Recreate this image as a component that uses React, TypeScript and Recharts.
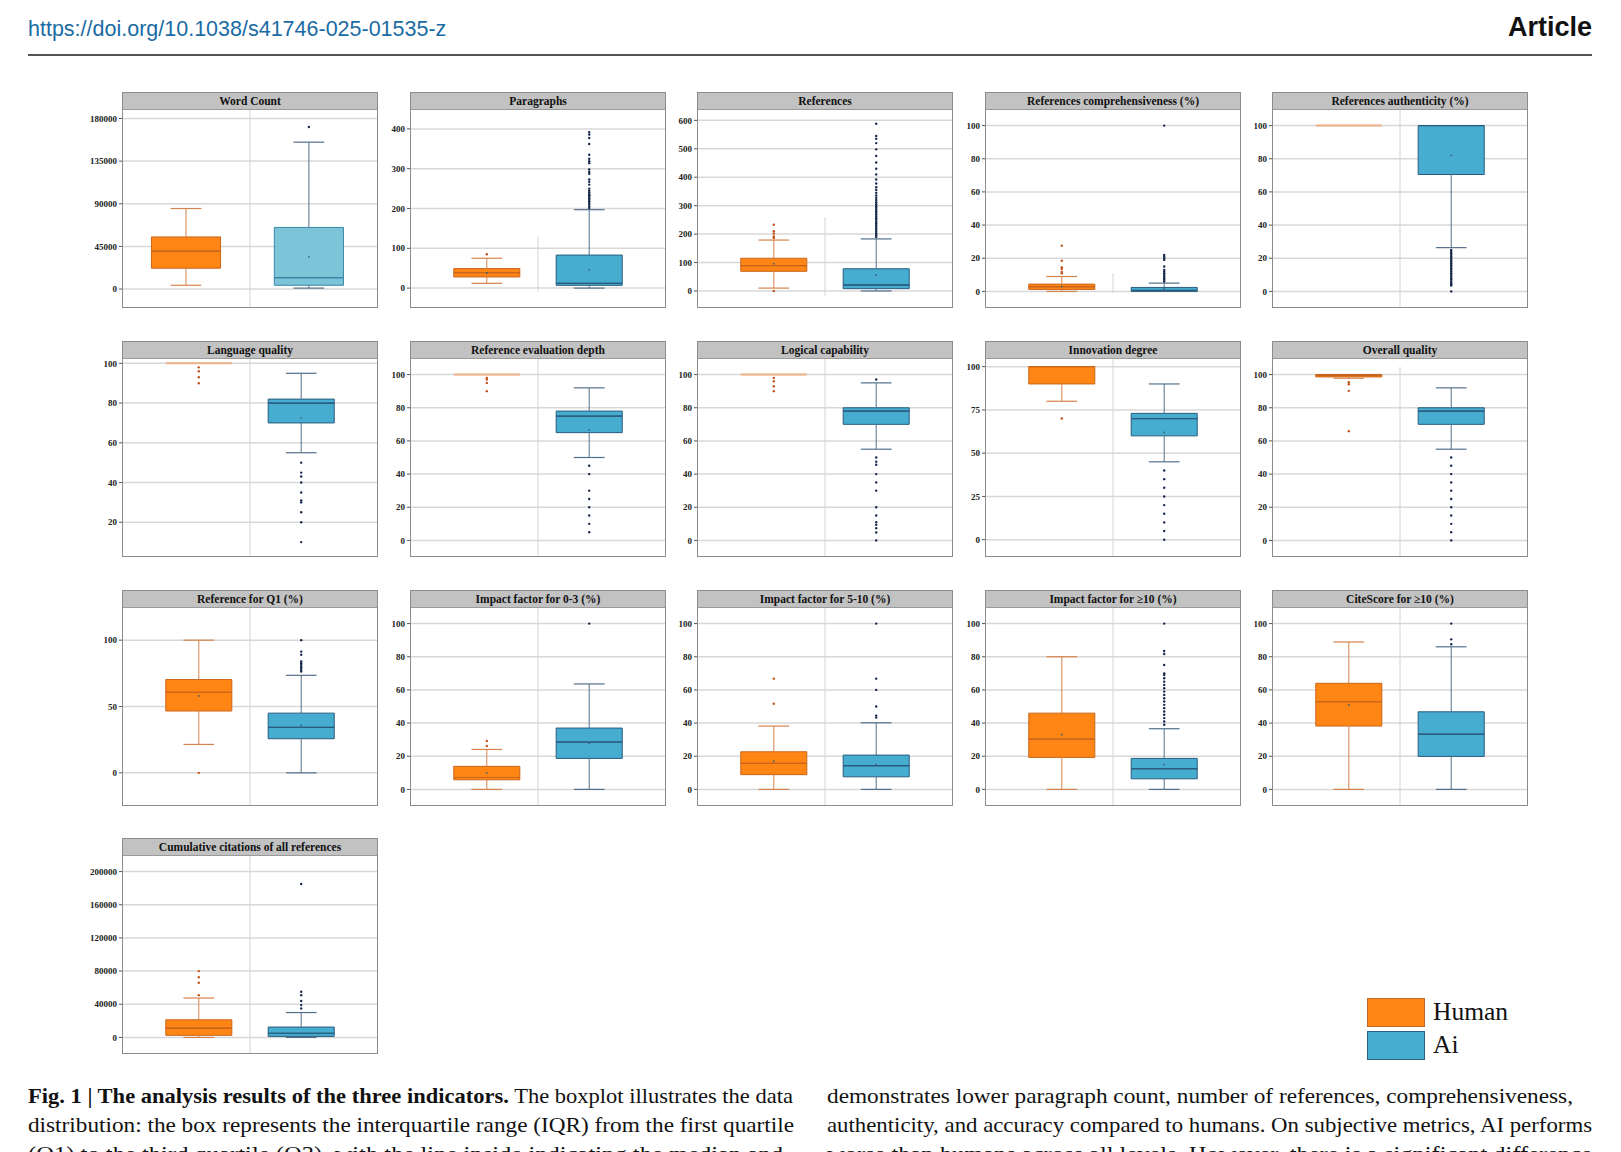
import React from 'react';
import {
  ComposedChart,
  XAxis,
  YAxis,
  CartesianGrid,
  ReferenceArea,
  ReferenceLine,
  Scatter,
} from 'recharts';

// five-number summaries are [min, q1, median, q3, max]
const pctTicks = [0, 20, 40, 60, 80, 100];

const wordCountTicks = [0, 45000, 90000, 135000, 180000];
const wordCountHuman = [4000, 22000, 40000, 55000, 85000];
const wordCountAi = [1000, 4000, 12000, 65000, 155000];
const wordCountHumanOut: number[] = [];
const wordCountAiOut = [171000];
const wordCountMeans = [null, 34000];

const paragraphTicks = [0, 100, 200, 300, 400];
const paragraphHuman = [12, 28, 39, 49, 75];
const paragraphAi = [0, 7, 12, 83, 197];
const paragraphHumanOut = [85];
const paragraphAiOut = [201, 205, 210, 214, 218, 222, 226, 230, 233, 236, 241, 245, 250, 260, 267, 273, 287, 292, 298, 314, 319, 325, 335, 362, 377, 386, 392];
const paragraphMeans = [38, 46];

const referenceTicks = [0, 100, 200, 300, 400, 500, 600];
const referenceHuman = [10, 69, 89, 115, 179];
const referenceAi = [0, 8, 21, 78, 183];
const referenceHumanOut = [0, 186, 192, 202, 210, 233];
const referenceAiOut = [190, 196, 202, 208, 214, 220, 226, 232, 238, 244, 250, 256, 262, 268, 274, 280, 286, 292, 298, 305, 312, 320, 328, 336, 345, 355, 365, 378, 392, 410, 430, 452, 475, 498, 520, 535, 545, 588];
const referenceMeans = [96, 56];

const comprehHuman = [0, 1.2, 2.8, 4.4, 9];
const comprehAi = [0, 0, 0.6, 2.4, 5];
const comprehHumanOut = [10.9, 11.7, 13.5, 14.5, 18.5, 27.6];
const comprehAiOut = [6, 7, 8, 9, 10, 11, 12, 13, 15, 19, 20, 21, 22, 100];
const comprehMeans = [3, 1.5];

const authHuman = [100, 100, 100, 100, 100];
const authAi = [26.4, 70.5, 100, 100, 100];
const authHumanOut: number[] = [];
const authAiOut = [0, 3.5, 4, 5, 6, 7, 8, 9, 10, 11, 12, 13, 14, 15, 16, 17, 18, 19, 20, 21, 22, 23, 24, 25];
const authMeans = [null, 82];

const languageTicks = [20, 40, 60, 80, 100];
const languageHuman = [100, 100, 100, 100, 100];
const languageAi = [55, 70, 80, 82, 95];
const languageHumanOut = [90, 93, 96, 98];
const languageAiOut = [10, 20, 25, 30, 31, 35, 40, 43, 45, 50];
const languageMeans = [null, 72.6];

const depthHuman = [100, 100, 100, 100, 100];
const depthAi = [50, 65, 75, 78, 92];
const depthHumanOut = [90, 95, 97, 98];
const depthAiOut = [5, 10, 15, 20, 25, 30, 40, 45];
const depthMeans = [null, 66.5];

const logicHuman = [100, 100, 100, 100, 100];
const logicAi = [55, 70, 78, 80, 95];
const logicHumanOut = [90, 93, 96, 98];
const logicAiOut = [0, 4.8, 7.4, 9.4, 11, 15, 20, 30, 35, 40, 45.6, 47.5, 50, 97];
const logicMeans = [null, null];

const innovationTicks = [0, 25, 50, 75, 100];
const innovationHuman = [80, 90, 100, 100, 100];
const innovationAi = [45, 60, 70, 73, 90];
const innovationHumanOut = [70];
const innovationAiOut = [0, 5, 10, 15, 20, 25, 30, 35, 40];
const innovationMeans = [null, 62];

const overallHuman = [97.8, 98.6, 99.6, 100, 100];
const overallAi = [55, 70, 78, 80, 92];
const overallHumanOut = [65.9, 90.2, 94.2, 95.4];
const overallAiOut = [0, 5, 10, 15, 20, 25, 30, 35, 40, 45, 50];
const overallMeans = [null, null];

const q1Ticks = [0, 50, 100];
const q1Human = [21.4, 46.6, 60.7, 70.3, 100];
const q1Ai = [0, 25.7, 34.3, 45, 73.5];
const q1HumanOut = [0];
const q1AiOut = [76.3, 77.6, 79, 80, 81.4, 82.6, 84, 89, 91.4, 100];
const q1Means = [58, 36];

const if03Human = [0, 5.8, 7.2, 13.9, 24.1];
const if03Ai = [0, 18.7, 28.6, 37, 63.6];
const if03HumanOut = [26.2, 29.2];
const if03AiOut = [100];
const if03Means = [10, 28];

const if510Human = [0, 8.9, 15.7, 22.7, 38.2];
const if510Ai = [0, 7.6, 14.3, 20.7, 40.2];
const if510HumanOut = [51.7, 66.8];
const if510AiOut = [43.3, 44.5, 50, 60, 66.8, 100];
const if510Means = [17, 15];

const if10Human = [0, 19.3, 30.4, 46, 80];
const if10Ai = [0, 6.4, 12.5, 18.7, 36.6];
const if10HumanOut: number[] = [];
const if10AiOut = [39, 41, 43, 45, 47, 49, 51, 53, 55, 57, 59, 61, 63, 65, 67, 69, 70, 75, 81.7, 83.5, 100];
const if10Means = [33, 15];

const citeHuman = [0, 38.2, 52.9, 64, 88.9];
const citeAi = [0, 19.9, 33.3, 46.8, 86];
const citeHumanOut: number[] = [];
const citeAiOut = [87.5, 90.5, 100];
const citeMeans = [51, 33.5];

const citationTicks = [0, 40000, 80000, 120000, 160000, 200000];
const citationHuman = [0, 2500, 11250, 21250, 47500];
const citationAi = [0, 1250, 5000, 12500, 30000];
const citationHumanOut = [51000, 66000, 72500, 80000];
const citationAiOut = [35000, 39000, 44000, 51000, 55000, 185000];
const citationMeans = [null, null];

interface PanelDef {
  title: string;
  ticks: number[];
  domain: [number, number];
  human: number[];
  ai: number[];
  humanOut: number[];
  aiOut: number[];
  means: (number | null)[];
  pos?: [number, number];
  half?: number;
  divider?: [number, number] | null;
  aiFill?: string;
  aiStroke?: string;
}

const PANELS: PanelDef[] = [
  { title: 'Word Count', ticks: wordCountTicks, domain: [-20000, 190000], human: wordCountHuman, ai: wordCountAi, humanOut: wordCountHumanOut, aiOut: wordCountAiOut, means: wordCountMeans, pos: [0.5, 1.46], half: 0.27, aiFill: '#7cc5d9', aiStroke: '#3a86a6' },
  { title: 'Paragraphs', ticks: paragraphTicks, domain: [-50, 450], human: paragraphHuman, ai: paragraphAi, humanOut: paragraphHumanOut, aiOut: paragraphAiOut, means: paragraphMeans, divider: [-10, 130] },
  { title: 'References', ticks: referenceTicks, domain: [-60, 640], human: referenceHuman, ai: referenceAi, humanOut: referenceHumanOut, aiOut: referenceAiOut, means: referenceMeans, divider: [-19, 259] },
  { title: 'References comprehensiveness (%)', ticks: pctTicks, domain: [-10, 110], human: comprehHuman, ai: comprehAi, humanOut: comprehHumanOut, aiOut: comprehAiOut, means: comprehMeans, divider: [-1, 11] },
  { title: 'References authenticity (%)', ticks: pctTicks, domain: [-10, 110], human: authHuman, ai: authAi, humanOut: authHumanOut, aiOut: authAiOut, means: authMeans },
  { title: 'Language quality', ticks: languageTicks, domain: [2.5, 102.7], human: languageHuman, ai: languageAi, humanOut: languageHumanOut, aiOut: languageAiOut, means: languageMeans },
  { title: 'Reference evaluation depth', ticks: pctTicks, domain: [-10, 110], human: depthHuman, ai: depthAi, humanOut: depthHumanOut, aiOut: depthAiOut, means: depthMeans },
  { title: 'Logical capability', ticks: pctTicks, domain: [-10, 110], human: logicHuman, ai: logicAi, humanOut: logicHumanOut, aiOut: logicAiOut, means: logicMeans },
  { title: 'Innovation degree', ticks: innovationTicks, domain: [-10, 105], human: innovationHuman, ai: innovationAi, humanOut: innovationHumanOut, aiOut: innovationAiOut, means: innovationMeans },
  { title: 'Overall quality', ticks: pctTicks, domain: [-10, 110], human: overallHuman, ai: overallAi, humanOut: overallHumanOut, aiOut: overallAiOut, means: overallMeans, divider: [-10, 104.6] },
  { title: 'Reference for Q1 (%)', ticks: q1Ticks, domain: [-25, 125], human: q1Human, ai: q1Ai, humanOut: q1HumanOut, aiOut: q1AiOut, means: q1Means },
  { title: 'Impact factor for 0-3 (%)', ticks: pctTicks, domain: [-10, 110], human: if03Human, ai: if03Ai, humanOut: if03HumanOut, aiOut: if03AiOut, means: if03Means },
  { title: 'Impact factor for 5-10 (%)', ticks: pctTicks, domain: [-10, 110], human: if510Human, ai: if510Ai, humanOut: if510HumanOut, aiOut: if510AiOut, means: if510Means },
  { title: 'Impact factor for \u226510 (%)', ticks: pctTicks, domain: [-10, 110], human: if10Human, ai: if10Ai, humanOut: if10HumanOut, aiOut: if10AiOut, means: if10Means },
  { title: 'CiteScore for \u226510 (%)', ticks: pctTicks, domain: [-10, 110], human: citeHuman, ai: citeAi, humanOut: citeHumanOut, aiOut: citeAiOut, means: citeMeans },
  { title: 'Cumulative citations of all references', ticks: citationTicks, domain: [-20000, 220000], human: citationHuman, ai: citationAi, humanOut: citationHumanOut, aiOut: citationAiOut, means: citationMeans },
];

const PANEL_X = [122, 410, 697, 985, 1272];
const PANEL_Y = [92, 341, 590, 838];
const PANEL_W = 256;
const TITLE_H = 17;
const PLOT_H = 199;
const AXIS_W = 46;

const SERIF = '"Liberation Serif", "Times New Roman", Times, serif';
const SANS = '"Liberation Sans", Arial, Helvetica, sans-serif';

const HUMAN = { fill: '#ff8514', stroke: '#c9661c', whisker: '#d5834c', dot: '#c0521a', flat: '#eeb186' };
const AI = { fill: '#46acd0', stroke: '#2a5c7e', whisker: '#53708a', dot: '#14264a', flat: '#6aa9c6' };

type Colors = typeof HUMAN;

function boxMarks(key: string, stats: number[], c: number, half: number, col: Colors, fill: string, stroke: string) {
  const [min, q1, med, q3, max] = stats;
  const cap = 0.12;
  const els: React.ReactNode[] = [];
  if (q3 > q1) {
    if (med > q1) {
      els.push(
        <ReferenceArea key={key + 'lo'} x1={c - half} x2={c + half} y1={q1} y2={med} fill={fill} fillOpacity={1} stroke={stroke} strokeWidth={1} ifOverflow="visible" />
      );
    }
    if (q3 > med) {
      els.push(
        <ReferenceArea key={key + 'hi'} x1={c - half} x2={c + half} y1={med} y2={q3} fill={fill} fillOpacity={1} stroke={stroke} strokeWidth={1} ifOverflow="visible" />
      );
    }
    els.push(
      <ReferenceLine key={key + 'med'} segment={[{ x: c - half, y: med }, { x: c + half, y: med }]} stroke={stroke} strokeWidth={1.2} ifOverflow="visible" />
    );
  } else {
    els.push(
      <ReferenceLine key={key + 'flat'} segment={[{ x: c - half, y: med }, { x: c + half, y: med }]} stroke={col.flat} strokeWidth={2} ifOverflow="visible" />
    );
  }
  if (max > q3) {
    els.push(<ReferenceLine key={key + 'wu'} segment={[{ x: c, y: q3 }, { x: c, y: max }]} stroke={col.whisker} strokeWidth={1} ifOverflow="visible" />);
    els.push(<ReferenceLine key={key + 'cu'} segment={[{ x: c - cap, y: max }, { x: c + cap, y: max }]} stroke={col.whisker} strokeWidth={1.2} ifOverflow="visible" />);
  }
  if (q1 > min) {
    els.push(<ReferenceLine key={key + 'wl'} segment={[{ x: c, y: min }, { x: c, y: q1 }]} stroke={col.whisker} strokeWidth={1} ifOverflow="visible" />);
    els.push(<ReferenceLine key={key + 'cl'} segment={[{ x: c - cap, y: min }, { x: c + cap, y: min }]} stroke={col.whisker} strokeWidth={1.2} ifOverflow="visible" />);
  }
  return els;
}

const dotShape = (color: string, r: number) => (props: any) => {
  if (props.cx == null || props.cy == null) return <g />;
  return <circle cx={props.cx} cy={props.cy} r={r} fill={color} />;
};

const Panel: React.FC<{ def: PanelDef; left: number; top: number }> = ({ def, left, top }) => {
  const pos = def.pos ?? [0.6, 1.4];
  const half = def.half ?? 0.258;
  const humanPts = def.humanOut.map((y) => ({ x: pos[0], y }));
  const aiPts = def.aiOut.map((y) => ({ x: pos[1], y }));
  const meanPts = def.means
    .map((y, i) => (y == null ? null : { x: pos[i], y, i }))
    .filter((p): p is { x: number; y: number; i: number } => p !== null);

  return (
    <>
      <div
        style={{
          position: 'absolute',
          left: left - AXIS_W,
          top: top + TITLE_H,
          width: PANEL_W + AXIS_W,
          height: PLOT_H,
        }}
      >
        <ComposedChart width={PANEL_W + AXIS_W} height={PLOT_H} margin={{ top: 0, right: 0, bottom: 0, left: 0 }}>
          <CartesianGrid horizontal vertical={false} horizontalValues={def.ticks} stroke="#d8d8d8" strokeWidth={1.5} />
          <XAxis type="number" dataKey="x" domain={[0, 2]} hide allowDataOverflow />
          <YAxis
            type="number"
            dataKey="y"
            domain={def.domain}
            ticks={def.ticks}
            interval={0}
            allowDataOverflow
            width={AXIS_W}
            axisLine={false}
            tickSize={3}
            tickLine={{ stroke: '#555' }}
            tick={{ fontSize: 9, fontWeight: 700, fill: '#222', fontFamily: SERIF }}
            tickFormatter={(v: number) => String(v)}
          />
          {def.divider ? (
            <ReferenceLine segment={[{ x: 1, y: def.divider[0] }, { x: 1, y: def.divider[1] }]} stroke="#d4d4d4" strokeWidth={1} ifOverflow="visible" />
          ) : (
            <ReferenceLine x={1} stroke="#d4d4d4" strokeWidth={1} />
          )}
          {boxMarks('h', def.human, pos[0], half, HUMAN, HUMAN.fill, HUMAN.stroke)}
          {boxMarks('a', def.ai, pos[1], half, AI, def.aiFill ?? AI.fill, def.aiStroke ?? AI.stroke)}
          <Scatter data={humanPts} isAnimationActive={false} shape={dotShape(HUMAN.dot, 1.2)} />
          <Scatter data={aiPts} isAnimationActive={false} shape={dotShape(AI.dot, 1.2)} />
          <Scatter data={meanPts} isAnimationActive={false} shape={dotShape('#3d5f78', 0.9)} />
        </ComposedChart>
      </div>
      <div
        style={{
          position: 'absolute',
          left,
          top,
          width: PANEL_W,
          height: TITLE_H + PLOT_H,
          border: '1px solid #8c8c8c',
          boxSizing: 'border-box',
          pointerEvents: 'none',
        }}
      >
        <div
          style={{
            height: TITLE_H - 1,
            background: '#c2c2c2',
            borderBottom: '1px solid #9a9a9a',
            fontFamily: SERIF,
            fontWeight: 700,
            fontSize: 11.5,
            lineHeight: `${TITLE_H - 1}px`,
            textAlign: 'center',
            color: '#111',
            whiteSpace: 'nowrap',
          }}
        >
          {def.title}
        </div>
      </div>
    </>
  );
};

export default function App() {
  return (
    <div
      style={{
        position: 'fixed',
        left: 0,
        top: 0,
        width: 1621,
        height: 1152,
        background: '#fff',
        overflow: 'hidden',
      }}
    >
      <div style={{ position: 'absolute', left: 28, top: 17, fontFamily: SANS, fontSize: 21.5, color: '#1a6ba3', whiteSpace: 'nowrap' }}>
        https://doi.org/10.1038/s41746-025-01535-z
      </div>
      <div style={{ position: 'absolute', right: 1621 - 1592, top: 12, fontFamily: SANS, fontSize: 27, fontWeight: 700, color: '#111' }}>
        Article
      </div>
      <div style={{ position: 'absolute', left: 28, top: 54, width: 1564, height: 2, background: '#555' }} />

      {PANELS.map((def, i) => (
        <Panel key={def.title} def={def} left={PANEL_X[i % 5]} top={PANEL_Y[Math.floor(i / 5)]} />
      ))}

      <div style={{ position: 'absolute', left: 1367, top: 998, width: 58, height: 29, background: HUMAN.fill, border: '1px solid #c0692a', boxSizing: 'border-box' }} />
      <div style={{ position: 'absolute', left: 1367, top: 1031, width: 58, height: 29, background: AI.fill, border: '1px solid #2d6080', boxSizing: 'border-box' }} />
      <div style={{ position: 'absolute', left: 1433, top: 996, fontFamily: SERIF, fontSize: 25.5, lineHeight: '32px', color: '#111' }}>Human</div>
      <div style={{ position: 'absolute', left: 1433, top: 1029, fontFamily: SERIF, fontSize: 25.5, lineHeight: '32px', color: '#111' }}>Ai</div>

      <svg style={{ position: 'absolute', left: 0, top: 1070 }} width={1621} height={82}>
        <g fontFamily={SERIF} fontSize={22} fill="#111">
          <text x={28} y={33} textLength={765} lengthAdjust="spacingAndGlyphs">
            <tspan fontWeight={700}>Fig. 1 | The analysis results of the three indicators.</tspan>
            {' The boxplot illustrates the data'}
          </text>
          <text x={28} y={62} textLength={766} lengthAdjust="spacingAndGlyphs">
            distribution: the box represents the interquartile range (IQR) from the first quartile
          </text>
          <text x={28} y={91} textLength={755} lengthAdjust="spacingAndGlyphs">
            (Q1) to the third quartile (Q3), with the line inside indicating the median and
          </text>
          <text x={827} y={33} textLength={746} lengthAdjust="spacingAndGlyphs">
            demonstrates lower paragraph count, number of references, comprehensiveness,
          </text>
          <text x={827} y={62} textLength={765} lengthAdjust="spacingAndGlyphs">
            authenticity, and accuracy compared to humans. On subjective metrics, AI performs
          </text>
          <text x={827} y={91} textLength={765} lengthAdjust="spacingAndGlyphs">
            worse than humans across all levels. However, there is a significant difference
          </text>
        </g>
      </svg>
    </div>
  );
}
